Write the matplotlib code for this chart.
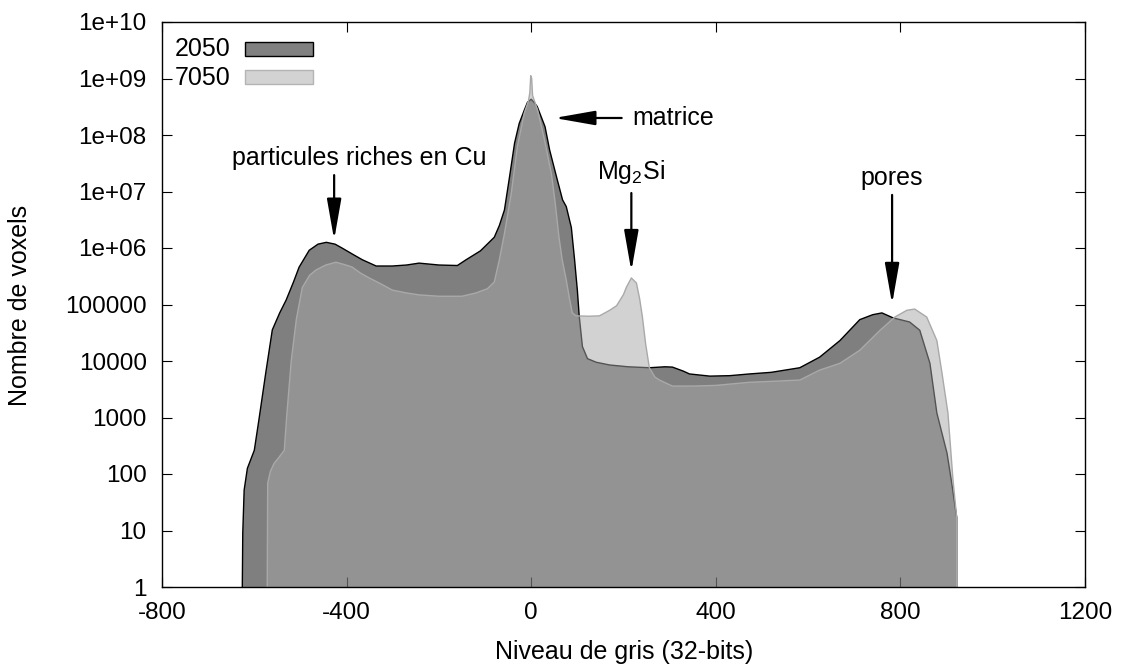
import matplotlib
matplotlib.use("Agg")
import matplotlib.pyplot as plt
from matplotlib.ticker import FixedLocator, FixedFormatter, NullLocator
from matplotlib.patches import Rectangle

plt.rcParams['font.family'] = ['Liberation Sans', 'DejaVu Sans']
plt.rcParams['mathtext.fontset'] = 'custom'
plt.rcParams['mathtext.rm'] = 'Liberation Sans'

# ---- data (grey level, voxel counts) ----
x_2050 = [-626, -625, -622, -615, -600, -590, -575, -561, -545, -531, -515, -503,
          -481, -462, -444, -425, -410, -385, -366, -336, -301, -270, -243, -200,
          -160, -141, -110, -80, -69, -58, -47, -36, -26, -15, -8, 0, 6, 13, 30,
          40, 55, 68, 76, 87, 94, 98, 100, 104, 111, 122, 141, 170, 210, 256, 290,
          306, 330, 343, 387, 430, 473, 520, 582, 625, 669, 712, 740, 760, 784,
          820, 842, 864, 879, 901, 911, 922, 922]
n_2050 = [1, 9, 52, 126, 263, 912, 6300, 35500, 71000, 120000, 251000, 457000,
          912000, 1.17e6, 1.26e6, 1.17e6, 1.0e6, 7.6e5, 6.2e5, 4.8e5, 4.8e5, 5.0e5,
          5.4e5, 5.0e5, 4.9e5, 6.2e5, 8.9e5, 1.55e6, 2.5e6, 4.7e6, 1.8e7, 7.2e7,
          1.6e8, 2.75e8, 3.8e8, 4.3e8, 3.8e8, 3.2e8, 1.4e8, 5.4e7, 1.8e7, 7.1e6,
          5.4e6, 2.3e6, 6.2e5, 2.7e5, 1.8e5, 6.3e4, 1.8e4, 1.1e4, 9500, 8500, 7900,
          7600, 7900, 7800, 6600, 5900, 5400, 5500, 5900, 6300, 7600, 1.17e4, 2.3e4,
          5.4e4, 6.6e4, 7.1e4, 5.8e4, 4.9e4, 3.5e4, 9100, 1200, 234, 71, 17, 1]

x_7050 = [-572, -571, -565, -557, -546, -535, -530, -520, -509, -496, -480, -466,
          -445, -423, -405, -388, -370, -351, -325, -301, -270, -243, -200, -150,
          -120, -95, -80, -69, -58, -43, -30, -15, -6, -3, -1, 1, 3, 14, 29, 44,
          52, 60, 67, 76, 83, 89, 97, 125, 148, 170, 185, 200, 206, 217, 228, 235,
          241, 248, 256, 268, 278, 306, 350, 400, 473, 530, 582, 625, 669, 712,
          756, 788, 814, 831, 857, 879, 890, 903, 914, 922, 922]
n_7050 = [1, 69, 112, 155, 200, 263, 1000, 1e4, 5.4e4, 2.0e5, 3.3e5, 4.1e5,
          5.0e5, 5.6e5, 5.1e5, 4.6e5, 3.6e5, 2.95e5, 2.3e5, 1.8e5, 1.6e5, 1.48e5,
          1.4e5, 1.4e5, 1.6e5, 1.9e5, 2.5e5, 6.2e5, 1.8e6, 9.5e6, 6.2e7, 2.45e8,
          4.0e8, 5.6e8, 1.12e9, 1.0e9, 5.0e8, 2.75e8, 8.1e7, 2.0e7, 6.3e6, 1.6e6,
          6.3e5, 2.7e5, 1.26e5, 7.1e4, 6.3e4, 6.2e4, 6.3e4, 7.9e4, 9.5e4, 1.5e5,
          2.0e5, 2.95e5, 2.4e5, 1.26e5, 6.0e4, 2.0e4, 7600, 5200, 4600, 3600, 3600,
          3700, 4200, 4400, 4600, 6900, 9100, 1.55e4, 3.5e4, 6.0e4, 7.9e4, 8.3e4,
          6.0e4, 2.3e4, 6200, 1200, 78, 17, 1]

x_ticks = [-800, -400, 0, 400, 800, 1200]
y_ticks = [1, 10, 100, 1000, 1e4, 1e5, 1e6, 1e7, 1e8, 1e9, 1e10]
y_tick_labels = ['1', '10', '100', '1000', '10000', '100000', '1e+06', '1e+07',
                 '1e+08', '1e+09', '1e+10']
series_names = ['2050', '7050']

W, H = 1122, 666
fig = plt.figure(figsize=(W / 100, H / 100), dpi=100)
ax = fig.add_axes([162 / W, 79 / H, 923 / W, 565 / H])
ax.set_yscale('log')

# 2050: black at 50% opacity, black border
ax.fill_between(x_2050, 1, n_2050, facecolor='black', alpha=0.5, linewidth=0, zorder=1)
ax.plot(x_2050, n_2050, color='black', lw=1.0, zorder=1.1)
# 7050: grey at 50% opacity, grey border
ax.fill_between(x_7050, 1, n_7050, facecolor='#a7a7a7', alpha=0.5, linewidth=0, zorder=1.2)
ax.plot(x_7050, n_7050, color='#a9a9a9', lw=1.0, zorder=1.3)

ax.set_xlim(-800, 1200)
ax.set_ylim(1, 1e10)
ax.xaxis.set_major_locator(FixedLocator(x_ticks))
ax.set_xticklabels([str(v) for v in x_ticks])
ax.yaxis.set_major_locator(FixedLocator(y_ticks))
ax.yaxis.set_major_formatter(FixedFormatter(y_tick_labels))
ax.yaxis.set_minor_locator(NullLocator())
ax.xaxis.set_minor_locator(NullLocator())
ax.set_axisbelow(True)
ax.tick_params(which='both', direction='in', length=7.2, width=0.8, top=True,
               right=True, labelsize=17.5, colors='black')
ax.tick_params(axis='y', pad=11)
ax.tick_params(axis='x', pad=11)
for s in ax.spines.values():
    s.set_linewidth(1.0)
    s.set_zorder(3)

fs = 18
fig.text(624 / W, 1 - 652 / H, 'Niveau de gris (32-bits)', ha='center', va='center', fontsize=fs)
fig.text(20 / W, 1 - 305 / H, 'Nombre de voxels', ha='center', va='center',
         rotation=90, fontsize=fs)

# legend
fig.text(231 / W, 1 - 49 / H, series_names[0], ha='right', va='center', fontsize=fs)
fig.text(231 / W, 1 - 78 / H, series_names[1], ha='right', va='center', fontsize=fs)
fig.add_artist(Rectangle((245 / W, 1 - 56 / H), 68 / W, 14 / H, transform=fig.transFigure,
                         facecolor='#808080', edgecolor='black', lw=1.0))
fig.add_artist(Rectangle((245 / W, 1 - 84 / H), 68 / W, 14 / H, transform=fig.transFigure,
                         facecolor='#d3d3d3', edgecolor='#b4b4b4', lw=1.0))

# annotations
arrow = dict(arrowstyle='-|>,head_length=25,head_width=4.4', mutation_scale=1,
             lw=1.6, color='black', shrinkA=0, shrinkB=0)
ax.annotate('', xy=(-427, 1.4e6), xytext=(-427, 1.95e7), arrowprops=arrow, zorder=4)
ax.text(-373, 3.9e7, 'particules riches en Cu', ha='center', va='center', fontsize=fs, zorder=4)
ax.annotate('', xy=(50, 2.0e8), xytext=(196, 2.0e8), arrowprops=arrow, zorder=4)
ax.text(220, 2.0e8, 'matrice', ha='left', va='center', fontsize=fs, zorder=4)
ax.annotate('', xy=(217, 3.9e5), xytext=(217, 9.4e6), arrowprops=arrow, zorder=4)
ax.text(217, 2.2e7, r'Mg$\mathregular{_2}$Si', ha='center', va='center', fontsize=fs, zorder=4)
ax.annotate('', xy=(782, 1.02e5), xytext=(782, 8.7e6), arrowprops=arrow, zorder=4)
ax.text(782, 1.7e7, 'pores', ha='center', va='center', fontsize=fs, zorder=4)

fig.savefig('out.png', dpi=100)
